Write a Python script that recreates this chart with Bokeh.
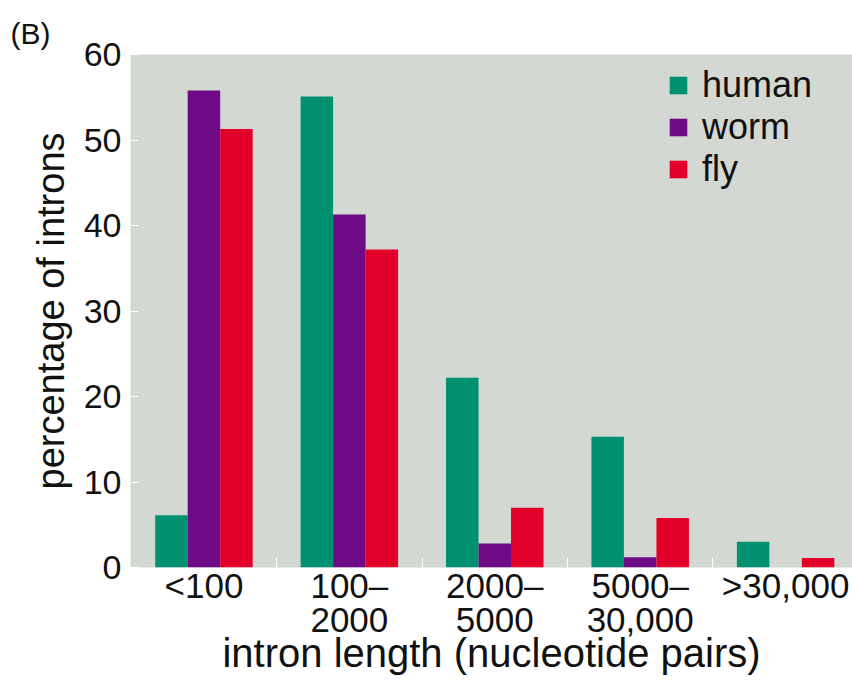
from bokeh.plotting import figure
from bokeh.models import FixedTicker, Legend, LegendItem, ColumnDataSource, LinearAxis
from bokeh.embed import file_html
from bokeh.resources import INLINE

categories = ["<100", "100–\n2000", "2000–\n5000", "5000–\n30,000", ">30,000"]
human = [6.1, 55.1, 22.2, 15.3, 3.0]
worm = [55.8, 41.3, 2.8, 1.2, 0.0]
fly = [51.3, 37.2, 7.0, 5.8, 1.1]
series_names = ["human", "worm", "fly"]
colors = ["#009270", "#6E0A86", "#E2002A"]

FONT = "Liberation Sans"
BG = "#D4D8D2"
TXT = "#111111"

x = list(range(len(categories)))
bw = 0.2235
first_lines = [c.split("\n")[0] for c in categories]
second_lines = [c.split("\n")[1] if "\n" in c else "" for c in categories]

p = figure(width=852, height=683, output_backend="svg", toolbar_location=None,
           x_range=(-0.505, 4.46), y_range=(0, 60),
           min_border_left=130, min_border_right=0, min_border_top=54, min_border_bottom=116)
p.background_fill_color = BG
p.border_fill_color = "white"
p.outline_line_color = None
p.grid.visible = False

renderers = []
for i, (name, vals, col) in enumerate(zip(series_names, [human, worm, fly], colors)):
    src = ColumnDataSource(dict(x=[xi + (i - 1) * bw for xi in x], top=vals))
    r = p.vbar(x="x", top="top", width=bw, bottom=0, source=src,
               fill_color=col, line_color=None)
    renderers.append(r)

# y axis
p.yaxis.ticker = FixedTicker(ticks=[0, 10, 20, 30, 40, 50, 60])
p.yaxis.axis_line_color = None
p.yaxis.major_tick_in = 8
p.yaxis.major_tick_out = 0
p.yaxis.major_tick_line_color = "white"
p.yaxis.minor_tick_line_color = None
p.yaxis.major_label_text_font = FONT
p.yaxis.major_label_text_font_size = "34px"
p.yaxis.major_label_text_color = TXT
p.yaxis.major_label_standoff = 9
p.yaxis.axis_label = "percentage of introns"
p.yaxis.axis_label_text_font = FONT
p.yaxis.axis_label_text_font_size = "38px"
p.yaxis.axis_label_text_font_style = "normal"
p.yaxis.axis_label_text_color = TXT
p.yaxis.axis_label_standoff = 9

# x axis: first lines of the category labels
xa = p.xaxis[0]
xa.ticker = FixedTicker(ticks=x, minor_ticks=[0.5, 1.5, 2.5, 3.5])
xa.major_label_overrides = {i: c for i, c in enumerate(first_lines)}
xa.axis_line_color = None
xa.major_tick_line_color = None
xa.minor_tick_in = 10
xa.minor_tick_out = 0
xa.minor_tick_line_color = "white"
xa.major_label_text_font = FONT
xa.major_label_text_font_size = "35px"
xa.major_label_text_color = TXT
xa.major_label_standoff = -8

# second axis: second lines + axis title
xb = LinearAxis(ticker=FixedTicker(ticks=x))
xb.major_label_overrides = {i: c for i, c in enumerate(second_lines)}
xb.axis_line_color = None
xb.major_tick_line_color = None
xb.minor_tick_line_color = None
xb.major_tick_out = 0
xb.major_tick_in = 0
xb.major_label_text_font = FONT
xb.major_label_text_font_size = "35px"
xb.major_label_text_color = TXT
xb.major_label_standoff = 0
xb.axis_label = "intron length (nucleotide pairs)"
xb.axis_label_text_font = FONT
xb.axis_label_text_font_size = "40px"
xb.axis_label_text_font_style = "normal"
xb.axis_label_text_color = TXT
xb.axis_label_standoff = -4
p.add_layout(xb, "below")

# title "(B)"
p.title.text = "(B)"
p.title.align = "left"
p.title.offset = -120
p.title.text_font = FONT
p.title.text_font_size = "30px"
p.title.text_font_style = "normal"
p.title.text_color = TXT

legend = Legend(items=[LegendItem(label=n, renderers=[r]) for n, r in zip(series_names, renderers)],
                location=(537, 377), padding=0, margin=0, spacing=0,
                glyph_width=22, glyph_height=22, label_standoff=13,
                label_text_font=FONT, label_text_font_size="36px", label_text_color=TXT,
                border_line_color=None, background_fill_alpha=0)
p.add_layout(legend)

open("out.html", "w").write(file_html(p, INLINE))
